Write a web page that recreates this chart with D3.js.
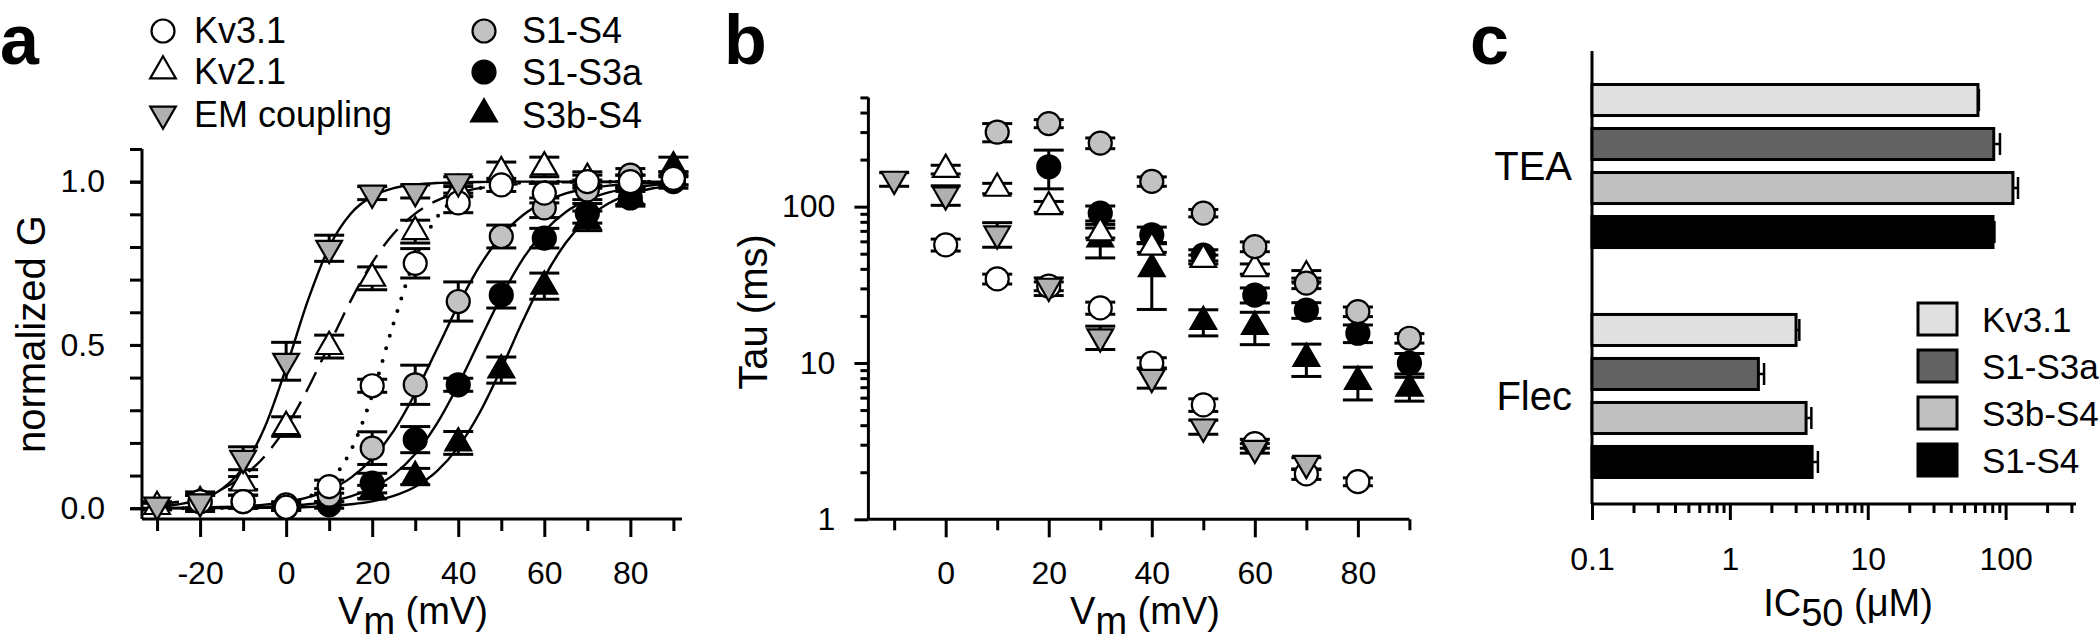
<!DOCTYPE html>
<html><head><meta charset="utf-8">
<script src="https://cdn.jsdelivr.net/npm/d3@7"></script>
<style>
body{margin:0;background:#fff}
svg{display:block}
text{font-family:"Liberation Sans",Arial,Helvetica,sans-serif;fill:#000}
</style>
</head><body>
<svg id="c" width="2100" height="643"></svg>
<script>
// ================= DATA =================
// ---- panel a: normalized conductance ----
const gVolt = [-30,-20,-10,0,10,20,30,40,50,60,70,80,90];
const gKv31     = [null,0.02,0.02,0.003,0.066,0.375,0.75,0.935,0.99,0.965,1.0,1.0,1.01];
const gKv31Err  = [null,0.03,0.02,0.01,0.02,0.02,0.045,0.03,0.02,0.03,0.02,0.02,0.02];
const gKv21     = [0.005,0.02,0.077,0.25,0.495,0.704,0.847,0.975,1.03,1.045,1.01,1.0,null];
const gKv21Err  = [0.01,0.02,0.02,0.03,0.035,0.035,0.035,0.02,0.03,0.03,0.02,0.02,null];
const gEM       = [0.01,0.02,0.153,0.45,0.796,0.965,0.97,1.0,null,null,null,null,null];
const gEMErr    = [0.01,0.02,0.035,0.058,0.04,0.02,0.02,0.015,null,null,null,null,null];
const gS1S4     = [null,0.02,0.02,0.01,0.04,0.184,0.378,0.633,0.832,0.92,0.975,1.02,1.01];
const gS1S4Err  = [null,0.02,0.02,0.01,0.02,0.05,0.06,0.06,0.035,0.03,0.03,0.02,0.02];
const gS1S3a    = [null,null,null,0.003,0.01,0.077,0.21,0.378,0.653,0.827,0.903,0.95,1.0];
const gS1S3aErr = [null,null,null,0.01,0.01,0.03,0.04,0.02,0.04,0.03,0.03,0.02,0.02];
const gS3bS4    = [null,null,null,null,null,0.05,0.097,0.2,0.423,0.68,0.88,0.955,1.045];
const gS3bS4Err = [null,null,null,null,null,0.02,0.025,0.035,0.04,0.04,0.03,0.03,0.03];

// fitted curves (every 5 mV)
const fitVolt = [-30,-25,-20,-15,-10,-5,0,5,10,15,20,25,30,35,40,45,50,55,60,65,70,75,80,85,90];
const fitKv31  = [0,0.0002,0.0004,0.0009,0.0023,0.0056,0.014,0.033,0.079,0.176,0.346,0.568,0.765,0.89,0.953,0.98,0.992,0.997,0.999,1,1,1,1,1,1];
const fitKv21  = [0.012,0.02,0.034,0.058,0.098,0.159,0.248,0.365,0.5,0.635,0.752,0.841,0.902,0.942,0.966,0.98,0.988,0.993,0.996,0.998,0.999,0.999,1,1,1];
const fitEM    = [0.005,0.012,0.026,0.058,0.125,0.247,0.43,0.634,0.8,0.902,0.955,0.98,0.991,0.996,0.998,0.999,1,1,1,1,1,1,1,1,1];
const fitS1S4  = [0.0007,0.0012,0.0021,0.0037,0.0063,0.011,0.019,0.033,0.056,0.093,0.152,0.237,0.352,0.486,0.622,0.742,0.834,0.897,0.938,0.964,0.979,0.988,0.993,0.996,0.998];
const fitS1S3a = [0.0003,0.0005,0.0008,0.0014,0.0023,0.004,0.007,0.012,0.021,0.036,0.062,0.103,0.166,0.258,0.378,0.514,0.648,0.763,0.848,0.907,0.944,0.967,0.981,0.989,0.994];
const fitS3bS4 = [0.0001,0.0001,0.0002,0.0004,0.0006,0.0011,0.002,0.0037,0.0067,0.012,0.021,0.038,0.066,0.113,0.187,0.293,0.427,0.573,0.707,0.813,0.887,0.934,0.962,0.979,0.988];

// ---- panel b: time constants (ms) ----
const tauVolt = [-10,0,10,20,30,40,50,60,70,80,90];
const tauKv31     = [null,57,34.5,31,22.5,10,5.4,3.05,1.95,1.74,null];
const tauKv31Err  = [null,5,2.5,2,2,0.8,0.5,0.2,0.15,0.1,null];
const tauKv21     = [null,173,131,100,68,55,46,40,36,null,null];
const tauKv21Err  = [null,11,10,8,5,4,3,3,3,null,null];
const tauEM       = [150,119,67,31,14.7,8.1,3.9,2.85,2.28,null,null];
const tauEMErr    = [15,17,12,4,2.5,1.2,0.4,0.2,0.2,null,null];
const tauS1S4     = [null,null,300,340,255,145,91,55.5,32.4,21.3,14.4];
const tauS1S4Err  = [null,null,40,20,20,10,5,4,2.5,1.5,1];
const tauS1S3a    = [null,null,null,180,91,66,49,27.2,21.8,15.5,10];
const tauS1S3aErr = [null,null,null,50,10,8,4,3,2.5,2,1.5];
const tauS3bS4    = [null,null,null,null,62,40,18.4,17.1,10.7,7.6,6.9];
const tauS3bS4Err = [null,null,null,null,15,18,3.5,4,2.5,1.8,1.2];

// ---- panel c: IC50 (uM) ----
const drugs = ["TEA","Flec"];
const channels = ["Kv3.1","S1-S3a","S3b-S4","S1-S4"];
const ic50TEA     = [63,82,113,81];
const ic50TEAErr  = [1,9,10,2];
const ic50Flec    = [3.02,1.61,3.57,3.95];
const ic50FlecErr = [0.17,0.16,0.33,0.4];

// tick labels
const gTickLabels = [0,0.5,1.0];
const vMajorA = [-20,0,20,40,60,80];
const vMinorA = [-30,-10,10,30,50,70,90];
const vMajorB = [0,20,40,60,80];
const vMinorB = [-10,10,30,50,70,90];

// ================= STYLE =================
const seriesNames = ["Kv3.1","Kv2.1","EM coupling","S1-S4","S1-S3a","S3b-S4"];
const look = {
  "Kv3.1":{shape:"circle",fill:"#ffffff",dash:"0,13"},
  "Kv2.1":{shape:"up",fill:"#ffffff",dash:"22,11"},
  "EM coupling":{shape:"down",fill:"#b0b0b0",dash:null},
  "S1-S4":{shape:"circle",fill:"#c2c2c2",dash:null},
  "S1-S3a":{shape:"circle",fill:"#000000",dash:null},
  "S3b-S4":{shape:"up",fill:"#000000",dash:null}
};
const drawOrder = ["S1-S3a","S3b-S4","Kv2.1","S1-S4","Kv3.1","EM coupling"];
const barFill = {"Kv3.1":"#e0e0e0","S1-S3a":"#626262","S3b-S4":"#c0c0c0","S1-S4":"#000000"};

const gTable = {
  "Kv3.1":[gKv31,gKv31Err],"Kv2.1":[gKv21,gKv21Err],"EM coupling":[gEM,gEMErr],
  "S1-S4":[gS1S4,gS1S4Err],"S1-S3a":[gS1S3a,gS1S3aErr],"S3b-S4":[gS3bS4,gS3bS4Err]
};
const fitTable = {"Kv3.1":fitKv31,"Kv2.1":fitKv21,"EM coupling":fitEM,"S1-S4":fitS1S4,"S1-S3a":fitS1S3a,"S3b-S4":fitS3bS4};
const tauTable = {
  "Kv3.1":[tauKv31,tauKv31Err],"Kv2.1":[tauKv21,tauKv21Err],"EM coupling":[tauEM,tauEMErr],
  "S1-S4":[tauS1S4,tauS1S4Err],"S1-S3a":[tauS1S3a,tauS1S3aErr],"S3b-S4":[tauS3bS4,tauS3bS4Err]
};
const icTable = {"TEA":[ic50TEA,ic50TEAErr],"Flec":[ic50Flec,ic50FlecErr]};

const svg = d3.select("#c");
svg.append("rect").attr("width",2100).attr("height",643).attr("fill","#fff");

function symPath(shape){
  if(shape==="circle") return d3.symbol(d3.symbolCircle, Math.PI*11.5*11.5)();
  return d3.symbol(d3.symbolTriangle, 285)();
}
function drawMarker(g,shape,fill,x,y){
  g.append("path").attr("d",symPath(shape))
   .attr("transform",`translate(${x},${y})`+(shape==="down"?" rotate(180)":""))
   .attr("fill",fill).attr("stroke","#000").attr("stroke-width",2.2);
}
function styleAxis(sel,fs){
  sel.selectAll("path.domain").remove();
  sel.selectAll(".tick line").attr("stroke","#000").attr("stroke-width",3);
  sel.selectAll(".tick text").attr("fill","#000").style("font-size",fs+"px")
     .style("font-family",'"Liberation Sans",Arial,Helvetica,sans-serif');
}

// panel letters
svg.append("text").attr("x",0).attr("y",64).attr("font-size",70).attr("font-weight","bold").text("a");
svg.append("text").attr("x",724).attr("y",64).attr("font-size",70).attr("font-weight","bold").text("b");
svg.append("text").attr("x",1470).attr("y",64).attr("font-size",70).attr("font-weight","bold").text("c");

// ================= PANEL A =================
const xA = d3.scaleLinear().domain([-33.5,92]).range([142,682]);
const yA = d3.scaleLinear().domain([-0.033,1.1]).range([519,149]);
{
  const g = svg.append("g");
  const ax1 = g.append("g").attr("transform","translate(0,519)")
    .call(d3.axisBottom(xA).tickValues(vMinorA).tickSize(12).tickFormat(""));
  styleAxis(ax1,32);
  const ax2 = g.append("g").attr("transform","translate(0,519)")
    .call(d3.axisBottom(xA).tickValues(vMajorA).tickSize(18).tickPadding(24).tickFormat(d=>String(d)));
  styleAxis(ax2,32);
  const ay1 = g.append("g").attr("transform","translate(142,0)")
    .call(d3.axisLeft(yA).tickValues(d3.range(0,1.15,0.1)).tickSize(12).tickFormat(""));
  styleAxis(ay1,32);
  const ay2 = g.append("g").attr("transform","translate(142,0)")
    .call(d3.axisLeft(yA).tickValues(gTickLabels).tickSize(12).tickPadding(25).tickFormat(d3.format(".1f")));
  styleAxis(ay2,32);
  g.append("line").attr("x1",xA.range()[0]).attr("x2",xA.range()[1]).attr("y1",519).attr("y2",519).attr("stroke","#000").attr("stroke-width",3);
  g.append("line").attr("x1",142).attr("x2",142).attr("y1",yA.range()[0]).attr("y2",yA.range()[1]).attr("stroke","#000").attr("stroke-width",3);

  const line = d3.line().x(d=>xA(d[0])).y(d=>yA(d[1])).curve(d3.curveMonotoneX);
  seriesNames.forEach(n=>{
    const pts = fitVolt.map((v,i)=>[v,fitTable[n][i]]);
    const p = g.append("path").attr("d",line(pts)).attr("fill","none").attr("stroke","#000")
      .attr("stroke-width",n==="Kv3.1"?4:2.4);
    if(look[n].dash){ p.attr("stroke-dasharray",look[n].dash); }
    if(n==="Kv3.1") p.attr("stroke-linecap","round");
  });
  drawOrder.forEach(n=>{
    const [vals,errs]=gTable[n];
    gVolt.forEach((v,i)=>{
      if(vals[i]==null) return;
      const x=xA(v), y1=yA(vals[i]-errs[i]), y2=yA(vals[i]+errs[i]);
      g.append("line").attr("x1",x).attr("x2",x).attr("y1",y1).attr("y2",y2).attr("stroke","#000").attr("stroke-width",3);
      [y1,y2].forEach(yy=>g.append("line").attr("x1",x-15).attr("x2",x+15).attr("y1",yy).attr("y2",yy).attr("stroke","#000").attr("stroke-width",3));
    });
  });
  drawOrder.forEach(n=>{
    const [vals]=gTable[n];
    gVolt.forEach((v,i)=>{ if(vals[i]!=null) drawMarker(g,look[n].shape,look[n].fill,xA(v),yA(vals[i])); });
  });
  const legPos = [[163,31,194,43],[163,71,194,84],[163,114,194,127],[484,31,522,43],[484,72,522,85],[484,114,522,128]];
  seriesNames.forEach((n,i)=>{
    const [sx,sy,tx,ty]=legPos[i];
    drawMarker(g,look[n].shape,look[n].fill,sx,sy);
    g.append("text").attr("x",tx).attr("y",ty).attr("font-size",36).text(n);
  });
  const t = g.append("text").attr("x",413).attr("y",624).attr("text-anchor","middle").attr("font-size",38);
  t.append("tspan").text("V");
  t.append("tspan").attr("dy",10).text("m");
  t.append("tspan").attr("dy",-10).text(" (mV)");
  g.append("text").attr("transform","translate(45,334) rotate(-90)").attr("text-anchor","middle").attr("font-size",40).text("normalized G");
}

// ================= PANEL B =================
const xB = d3.scaleLinear().domain([-15,90]).range([868.4,1409.4]);
const yB = d3.scaleLog().domain([1,500]).range([519.3,97.4]);
{
  const g = svg.append("g");
  const ax1 = g.append("g").attr("transform","translate(0,519.3)")
    .call(d3.axisBottom(xB).tickValues(vMinorB).tickSize(11).tickFormat(""));
  styleAxis(ax1,32);
  const ax2 = g.append("g").attr("transform","translate(0,519.3)")
    .call(d3.axisBottom(xB).tickValues(vMajorB).tickSize(18).tickPadding(24).tickFormat(d=>String(d)));
  styleAxis(ax2,32);
  const allT = yB.ticks();
  const majT = allT.filter(d=>Math.abs(Math.log10(d)-Math.round(Math.log10(d)))<1e-9);
  const minT = allT.filter(d=>!majT.includes(d));
  const ay1 = g.append("g").attr("transform","translate(868.4,0)")
    .call(d3.axisLeft(yB).tickValues(minT).tickSize(8).tickFormat(""));
  styleAxis(ay1,32);
  const ay2 = g.append("g").attr("transform","translate(868.4,0)")
    .call(d3.axisLeft(yB).tickValues(majT).tickSize(14).tickPadding(19).tickFormat(d=>String(d)));
  styleAxis(ay2,32);
  g.append("line").attr("x1",xB.range()[0]).attr("x2",xB.range()[1]).attr("y1",519.3).attr("y2",519.3).attr("stroke","#000").attr("stroke-width",3);
  g.append("line").attr("x1",868.4).attr("x2",868.4).attr("y1",yB.range()[0]).attr("y2",yB.range()[1]).attr("stroke","#000").attr("stroke-width",3);

  drawOrder.forEach(n=>{
    const [vals,errs]=tauTable[n];
    tauVolt.forEach((v,i)=>{
      if(vals[i]==null) return;
      const x=xB(v), y1=yB(Math.max(vals[i]-errs[i],1.01)), y2=yB(vals[i]+errs[i]);
      g.append("line").attr("x1",x).attr("x2",x).attr("y1",y1).attr("y2",y2).attr("stroke","#000").attr("stroke-width",3);
      [y1,y2].forEach(yy=>g.append("line").attr("x1",x-15).attr("x2",x+15).attr("y1",yy).attr("y2",yy).attr("stroke","#000").attr("stroke-width",3));
    });
  });
  drawOrder.forEach(n=>{
    const [vals]=tauTable[n];
    tauVolt.forEach((v,i)=>{ if(vals[i]!=null) drawMarker(g,look[n].shape,look[n].fill,xB(v),yB(vals[i])); });
  });
  const t = g.append("text").attr("x",1145).attr("y",624).attr("text-anchor","middle").attr("font-size",38);
  t.append("tspan").text("V");
  t.append("tspan").attr("dy",10).text("m");
  t.append("tspan").attr("dy",-10).text(" (mV)");
  g.append("text").attr("transform","translate(767,312) rotate(-90)").attr("text-anchor","middle").attr("font-size",40).text("Tau (ms)");
}

// ================= PANEL C =================
const xC = d3.scaleLog().domain([0.1,324]).range([1592,2076]);
const yGroup = d3.scaleBand().domain(drugs).range([84.5,477.5]).paddingInner(0.291);
const ySer = d3.scaleBand().domain(channels).range([0,yGroup.bandwidth()]).paddingInner(0.295);
{
  const g = svg.append("g");
  const allT = xC.ticks();
  const majT = allT.filter(d=>Math.abs(Math.log10(d)-Math.round(Math.log10(d)))<1e-9);
  const minT = allT.filter(d=>!majT.includes(d));
  const ax1 = g.append("g").attr("transform","translate(0,504)")
    .call(d3.axisBottom(xC).tickValues(minT).tickSize(9).tickFormat(""));
  styleAxis(ax1,32);
  const ax2 = g.append("g").attr("transform","translate(0,504)")
    .call(d3.axisBottom(xC).tickValues(majT).tickSize(16).tickPadding(27).tickFormat(d=>String(d)));
  styleAxis(ax2,32);
  g.append("line").attr("x1",xC.range()[0]).attr("x2",xC.range()[1]).attr("y1",504).attr("y2",504).attr("stroke","#000").attr("stroke-width",3);
  g.append("line").attr("x1",1592).attr("x2",1592).attr("y1",51).attr("y2",504).attr("stroke","#000").attr("stroke-width",3);

  drugs.forEach(dr=>{
    const [vals,errs]=icTable[dr];
    channels.forEach((ch,i)=>{
      const y = yGroup(dr)+ySer(ch), h = ySer.bandwidth();
      const xe = xC(vals[i]+errs[i]);
      g.append("line").attr("x1",xC(vals[i])).attr("x2",xe).attr("y1",y+h/2).attr("y2",y+h/2).attr("stroke","#000").attr("stroke-width",2.5);
      g.append("line").attr("x1",xe).attr("x2",xe).attr("y1",y+h/2-11).attr("y2",y+h/2+11).attr("stroke","#000").attr("stroke-width",2.5);
      g.append("rect").attr("x",xC(0.1)).attr("y",y).attr("width",xC(vals[i])-xC(0.1)).attr("height",h)
        .attr("fill",barFill[ch]).attr("stroke","#000").attr("stroke-width",3);
    });
    g.append("text").attr("x",1572).attr("y",yGroup(dr)+yGroup.bandwidth()/2).attr("dy","0.36em")
      .attr("text-anchor","end").attr("font-size",40).text(dr);
  });
  channels.forEach((ch,i)=>{
    const cy = 319 + i*47;
    g.append("rect").attr("x",1918).attr("y",cy-16).attr("width",39).attr("height",32)
      .attr("fill",barFill[ch]).attr("stroke","#000").attr("stroke-width",3);
    g.append("text").attr("x",1982).attr("y",cy+13).attr("font-size",35).text(ch);
  });
  const t = g.append("text").attr("x",1848).attr("y",616).attr("text-anchor","middle").attr("font-size",38);
  t.append("tspan").text("IC");
  t.append("tspan").attr("dy",10).text("50");
  t.append("tspan").attr("dy",-10).text(" (\u03BCM)");
}
</script>
</body></html>
